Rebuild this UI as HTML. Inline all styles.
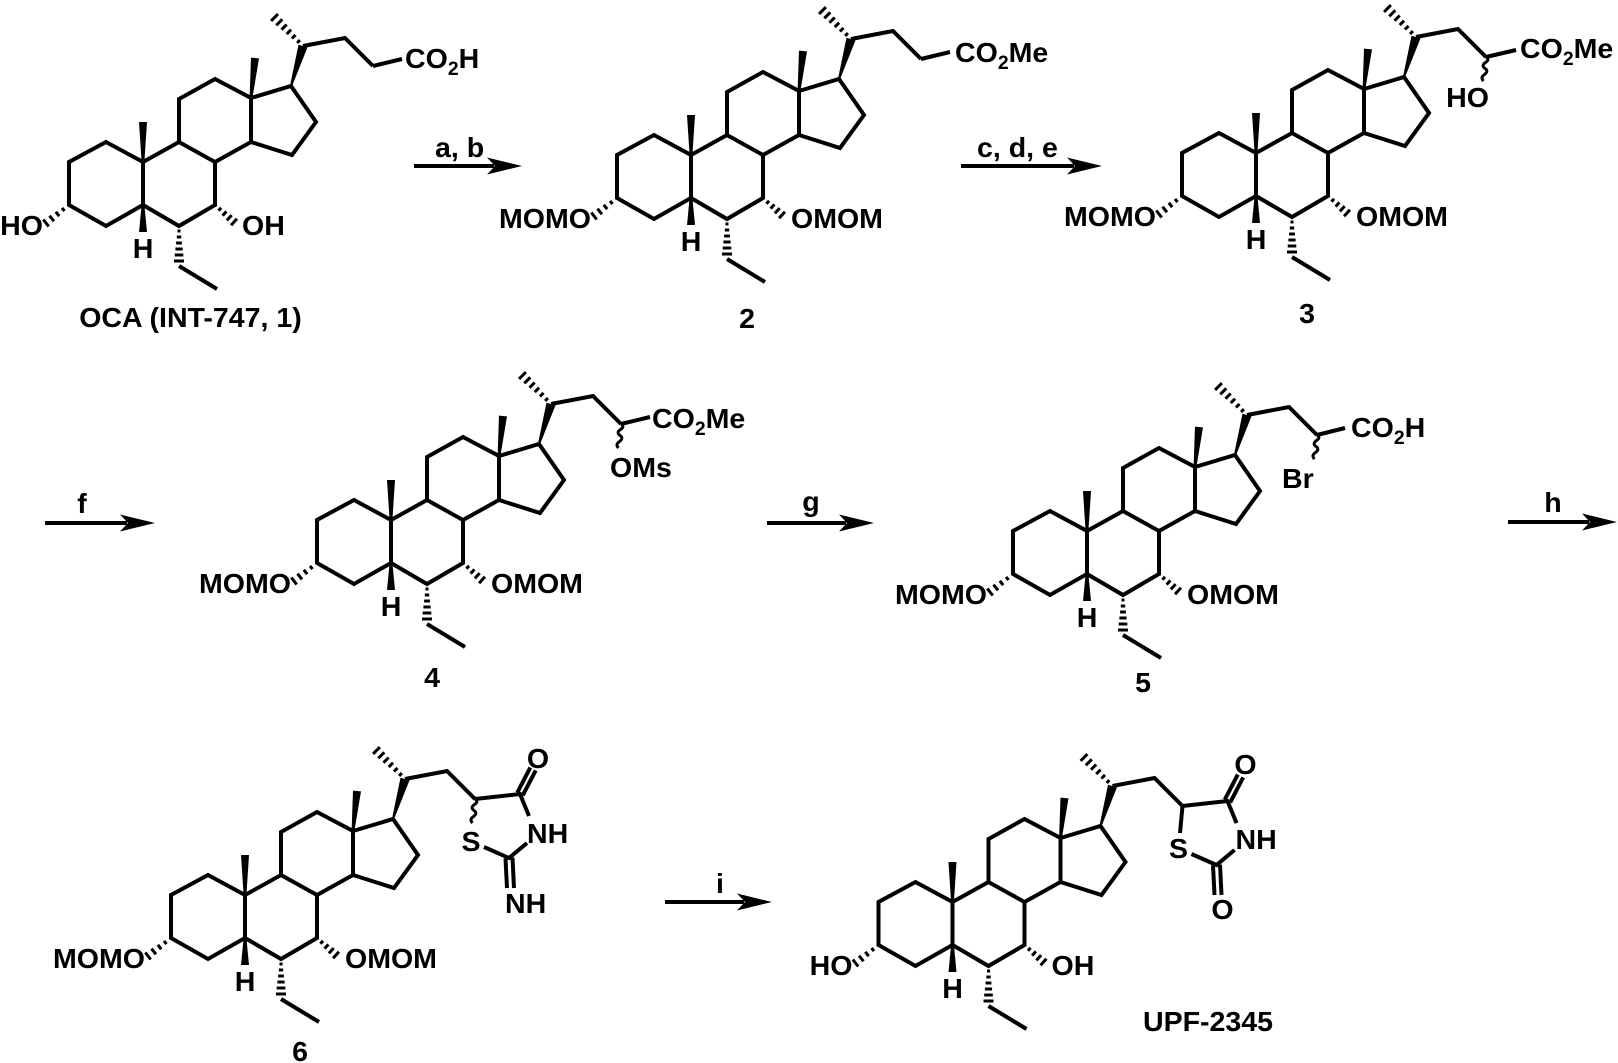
<!DOCTYPE html>
<html><head><meta charset="utf-8"><style>
html,body{margin:0;padding:0;background:#fff;}
svg{display:block;}
.t{font-family:"Liberation Sans",Arial,sans-serif;font-weight:bold;font-size:28px;fill:#000;}
.b{fill:none;stroke:#000;stroke-width:4;stroke-linejoin:miter;stroke-miterlimit:3;}
.h{stroke:#000;stroke-width:3;fill:none;}
.w{fill:none;stroke:#000;stroke-width:3;}
</style></head><body>
<svg width="1618" height="1063" viewBox="0 0 1618 1063" xmlns="http://www.w3.org/2000/svg">
<defs>
<g id="st">
 <path class="b" d="M-37,-20 L-74,0 L-74,43 L-37,64 L0,43 L0,0 Z M0,0 L36,-20 L72,0 L72,43 L36,64 L0,43 M36,-20 L36,-63 L72,-83 L108,-64 L108,-20 L72,0 M108,-64 L148,-76 L173,-40 L149,-7 L108,-20 M160,-116 L202,-124 L230,-96 M36,104 L74,127"/>
 <polygon points="-1.4,0 1.4,0 4,-40 -4,-40" fill="#000"/>
 <polygon points="106.6,-64 109.4,-64 116,-103.6 108,-104.4" fill="#000"/>
 <polygon points="-1.4,43 1.4,43 4,70 -4,70" fill="#000"/>
 <polygon points="147,-76.3 149,-75.7 164.5,-114.7 155.5,-117.3" fill="#000"/>
 <path class="h" d="M156.9,-121.9 L154.1,-119.1 M152.5,-127.1 L148.9,-123.5 M148.1,-132.3 L143.7,-127.9 M143.7,-137.5 L138.5,-132.3 M139.3,-142.7 L133.3,-136.7 M134.9,-147.9 L128.1,-141.1"/>
 <path class="h" d="M-80.98,45.92 L-78.52,49.08 M-87.2,49.8 L-83.8,54.2 M-93.5,53.7 L-89,59.3 M-99.7,57.5 L-94.3,64.5"/>
 <path class="h" d="M75.4,48.7 L78.1,45.8 M79.6,53.6 L83.4,49.4 M83.85,58.43 L88.65,53.07 M88.07,63.28 L93.93,56.72"/>
 <path class="h" d="M34.5,69 L37.5,69 M33.8,75 L38.2,75 M33.1,81 L38.9,81 M32.4,87 L39.6,87 M31.7,93 L40.3,93 M31,99 L41,99"/>
</g>
<path id="wv" d="M230,-96 q4,2.5 -0.5,5.5 q-4.5,3 -0.5,6 q4,2.5 -0.5,6 q-4.5,3 -1,6.5"/>
</defs>

<!-- Molecule 1 -->
<g transform="translate(143,162)">
 <use href="#st"/>
 <path class="b" d="M230,-96 L259,-103"/>
 <text class="t" transform="translate(262,-94) scale(1.02,1)">CO<tspan font-size="19" dy="7">2</tspan><tspan dy="-7">H</tspan></text>
 <text class="t" transform="translate(-100,73) scale(1.02,1)" text-anchor="end">HO</text>
 <text class="t" transform="translate(99,73) scale(1.02,1)">OH</text>
 <text class="t" transform="translate(0,96) scale(1.02,1)" text-anchor="middle">H</text>
</g>
<text class="t" transform="translate(190.5,327) scale(1.02,1)" text-anchor="middle">OCA (INT-747, 1)</text>

<!-- Molecule 2 -->
<g transform="translate(691,155)">
 <use href="#st"/>
 <path class="b" d="M230,-96 L259,-103"/>
 <text class="t" transform="translate(264,-93) scale(1.02,1)">CO<tspan font-size="19" dy="7">2</tspan><tspan dy="-7">Me</tspan></text>
 <text class="t" transform="translate(-100,73) scale(1.02,1)" text-anchor="end">MOMO</text>
 <text class="t" transform="translate(100,73) scale(1.02,1)">OMOM</text>
 <text class="t" transform="translate(0,96) scale(1.02,1)" text-anchor="middle">H</text>
</g>
<text class="t" transform="translate(747,328) scale(1.02,1)" text-anchor="middle">2</text>

<!-- Molecule 3 -->
<g transform="translate(1256,153)">
 <use href="#st"/>
 <path class="b" d="M230,-96 L260,-103"/>
 <use href="#wv" class="w"/>
 <text class="t" transform="translate(264,-95) scale(1.02,1)">CO<tspan font-size="19" dy="7">2</tspan><tspan dy="-7">Me</tspan></text>
 <text class="t" transform="translate(233,-46) scale(1.02,1)" text-anchor="end">HO</text>
 <text class="t" transform="translate(-100,73) scale(1.02,1)" text-anchor="end">MOMO</text>
 <text class="t" transform="translate(100,73) scale(1.02,1)">OMOM</text>
 <text class="t" transform="translate(0,96) scale(1.02,1)" text-anchor="middle">H</text>
</g>
<text class="t" transform="translate(1307,323) scale(1.02,1)" text-anchor="middle">3</text>

<!-- Molecule 4 -->
<g transform="translate(391,520)">
 <use href="#st"/>
 <path class="b" d="M230,-96 L259,-103"/>
 <use href="#wv" class="w"/>
 <text class="t" transform="translate(261,-92) scale(1.02,1)">CO<tspan font-size="19" dy="7">2</tspan><tspan dy="-7">Me</tspan></text>
 <text class="t" transform="translate(219,-43) scale(1.02,1)">OMs</text>
 <text class="t" transform="translate(-100,73) scale(1.02,1)" text-anchor="end">MOMO</text>
 <text class="t" transform="translate(100,73) scale(1.02,1)">OMOM</text>
 <text class="t" transform="translate(0,96) scale(1.02,1)" text-anchor="middle">H</text>
</g>
<text class="t" transform="translate(432,687) scale(1.02,1)" text-anchor="middle">4</text>

<!-- Molecule 5 -->
<g transform="translate(1087,531)">
 <use href="#st"/>
 <path class="b" d="M230,-96 L258,-103"/>
 <use href="#wv" class="w"/>
 <text class="t" transform="translate(264,-94) scale(1.02,1)">CO<tspan font-size="19" dy="7">2</tspan><tspan dy="-7">H</tspan></text>
 <text class="t" transform="translate(195,-43) scale(1.02,1)">Br</text>
 <text class="t" transform="translate(-100,73) scale(1.02,1)" text-anchor="end">MOMO</text>
 <text class="t" transform="translate(100,73) scale(1.02,1)">OMOM</text>
 <text class="t" transform="translate(0,96) scale(1.02,1)" text-anchor="middle">H</text>
</g>
<text class="t" transform="translate(1143,692) scale(1.02,1)" text-anchor="middle">5</text>

<!-- Molecule 6 -->
<g transform="translate(245,895)">
 <use href="#st"/>
 <path class="b" d="M230,-96 L275,-101 L284,-79 M282,-52 L264,-37 L239,-48"/>
 <path class="b" d="M277.7,-99.6 L290.7,-124.6 M272.3,-102.4 L285.3,-127.4"/>
 <path class="b" d="M260.5,-36.6 L262,-7 M267.5,-37.4 L269,-7"/>
 <use href="#wv" class="w"/>
 <text class="t" transform="translate(293,-127) scale(1.02,1)" text-anchor="middle">O</text>
 <text class="t" transform="translate(282,-52) scale(1.02,1)">NH</text>
 <text class="t" transform="translate(226,-44) scale(1.02,1)" text-anchor="middle">S</text>
 <text class="t" transform="translate(260,18) scale(1.02,1)">NH</text>
 <text class="t" transform="translate(-100,73) scale(1.02,1)" text-anchor="end">MOMO</text>
 <text class="t" transform="translate(100,73) scale(1.02,1)">OMOM</text>
 <text class="t" transform="translate(0,96) scale(1.02,1)" text-anchor="middle">H</text>
</g>
<text class="t" transform="translate(300,1061) scale(1.02,1)" text-anchor="middle">6</text>

<!-- UPF-2345 -->
<g transform="translate(952.5,902)">
 <use href="#st"/>
 <path class="b" d="M230,-96 L275,-101 L284,-79 M282,-52 L264,-37 L239,-48 M230,-96 L227.5,-69"/>
 <path class="b" d="M277.7,-99.6 L290.7,-124.6 M272.3,-102.4 L285.3,-127.4"/>
 <path class="b" d="M260.5,-36.6 L262,-7 M267.5,-37.4 L269,-7"/>
 <text class="t" transform="translate(293,-128) scale(1.02,1)" text-anchor="middle">O</text>
 <text class="t" transform="translate(283,-53) scale(1.02,1)">NH</text>
 <text class="t" transform="translate(226,-44) scale(1.02,1)" text-anchor="middle">S</text>
 <text class="t" transform="translate(270,17) scale(1.02,1)" text-anchor="middle">O</text>
 <text class="t" transform="translate(-100,73) scale(1.02,1)" text-anchor="end">HO</text>
 <text class="t" transform="translate(99,73) scale(1.02,1)">OH</text>
 <text class="t" transform="translate(0,96) scale(1.02,1)" text-anchor="middle">H</text>
</g>
<text class="t" transform="translate(1208,1031) scale(1.02,1)" text-anchor="middle">UPF-2345</text>

<!-- Arrows -->
<g stroke="#000" stroke-width="4" fill="none">
 <line x1="414" y1="166" x2="494" y2="166"/>
 <line x1="961" y1="166" x2="1074" y2="166"/>
 <line x1="45" y1="523" x2="127" y2="523"/>
 <line x1="767" y1="523" x2="846" y2="523"/>
 <line x1="1508" y1="522" x2="1589" y2="522"/>
 <line x1="665" y1="902" x2="744" y2="902"/>
</g>
<g fill="#000">
 <polygon points="522,166 487,157.5 495,166 487,174.5"/>
 <polygon points="1102,166 1067,157.5 1075,166 1067,174.5"/>
 <polygon points="155,523 120,514.5 128,523 120,531.5"/>
 <polygon points="874,523 839,514.5 847,523 839,531.5"/>
 <polygon points="1617,522 1582,513.5 1590,522 1582,530.5"/>
 <polygon points="772,902 737,893.5 745,902 737,910.5"/>
</g>
<text class="t" transform="translate(435,157) scale(1.02,1)">a, b</text>
<text class="t" transform="translate(977,157) scale(1.02,1)">c, d, e</text>
<text class="t" transform="translate(82,513) scale(1.02,1)" text-anchor="middle">f</text>
<text class="t" transform="translate(811,511) scale(1.02,1)" text-anchor="middle">g</text>
<text class="t" transform="translate(1553,512) scale(1.02,1)" text-anchor="middle">h</text>
<text class="t" transform="translate(720,893) scale(1.02,1)" text-anchor="middle">i</text>
</svg>
</body></html>
